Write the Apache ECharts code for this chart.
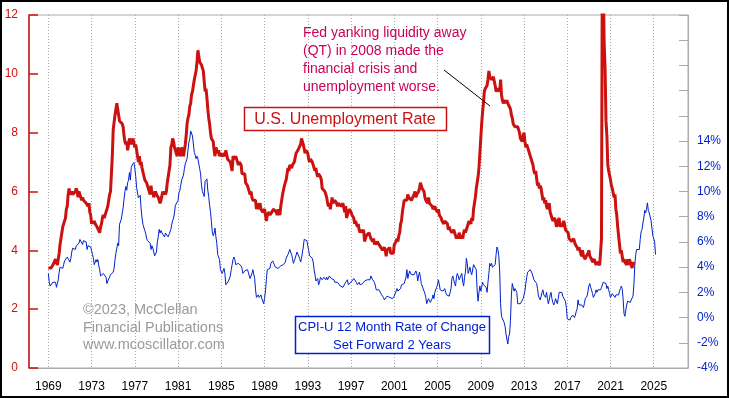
<!DOCTYPE html>
<html>
<head>
<meta charset="utf-8">
<script src="https://cdn.jsdelivr.net/npm/echarts@6/dist/echarts.min.js"></script>
<style>
html,body{margin:0;padding:0;background:#fff;}
#chart{width:729px;height:398px;}
</style>
</head>
<body>
<div id="chart"></div>
<script>
// ---- DATA ----
// U.S. unemployment rate, monthly, starting Jan 1969
const unempStartYear = 1969;
const unemployment = [
3.4,3.4,3.4,3.4,3.4,3.5,3.5,3.5,3.7,3.7,3.5,3.5,
3.9,4.2,4.4,4.6,4.8,4.9,5.0,5.1,5.4,5.5,5.9,6.1,
5.9,5.9,6.0,5.9,5.9,5.9,6.0,6.1,6.0,5.8,6.0,6.0,
5.8,5.7,5.8,5.7,5.7,5.7,5.6,5.6,5.5,5.6,5.3,5.2,
4.9,5.0,4.9,5.0,4.9,4.9,4.8,4.8,4.8,4.6,4.8,4.9,
5.1,5.2,5.1,5.1,5.1,5.4,5.5,5.5,5.9,6.0,6.6,7.2,
8.1,8.1,8.6,8.8,9.0,8.8,8.6,8.4,8.4,8.4,8.3,8.2,
7.9,7.7,7.6,7.7,7.4,7.6,7.8,7.8,7.6,7.7,7.8,7.8,
7.5,7.6,7.4,7.2,7.0,7.2,6.9,7.0,6.8,6.8,6.8,6.4,
6.4,6.3,6.3,6.1,6.0,5.9,6.2,5.9,6.0,5.8,5.9,6.0,
5.9,5.9,5.8,5.8,5.6,5.7,5.7,6.0,5.9,6.0,5.9,6.0,
6.3,6.3,6.3,6.9,7.5,7.6,7.8,7.7,7.5,7.5,7.5,7.2,
7.5,7.4,7.4,7.2,7.5,7.5,7.2,7.4,7.6,7.9,8.3,8.5,
8.6,8.9,9.0,9.3,9.4,9.6,9.8,9.8,10.1,10.4,10.8,10.8,
10.4,10.4,10.3,10.2,10.1,10.1,9.4,9.5,9.2,8.8,8.5,8.3,
8.0,7.8,7.8,7.7,7.4,7.2,7.5,7.5,7.3,7.4,7.2,7.3,
7.3,7.2,7.2,7.3,7.2,7.4,7.4,7.1,7.1,7.1,7.0,7.0,
6.7,7.2,7.2,7.1,7.2,7.2,7.0,6.9,7.0,7.0,6.9,6.6,
6.6,6.6,6.6,6.3,6.3,6.2,6.1,6.0,5.9,6.0,5.8,5.7,
5.7,5.7,5.7,5.4,5.6,5.4,5.4,5.6,5.4,5.4,5.3,5.3,
5.4,5.2,5.0,5.2,5.2,5.3,5.2,5.2,5.3,5.3,5.4,5.4,
5.4,5.3,5.2,5.4,5.4,5.2,5.5,5.7,5.9,5.9,6.2,6.3,
6.4,6.6,6.8,6.7,6.9,6.9,6.8,6.9,6.9,7.0,7.0,7.3,
7.3,7.4,7.4,7.4,7.6,7.8,7.7,7.6,7.6,7.3,7.4,7.4,
7.3,7.1,7.0,7.1,7.1,7.0,6.9,6.8,6.7,6.8,6.6,6.5,
6.6,6.6,6.5,6.4,6.1,6.1,6.1,6.0,5.9,5.8,5.6,5.5,
5.6,5.4,5.4,5.8,5.6,5.6,5.7,5.7,5.6,5.5,5.6,5.6,
5.6,5.5,5.5,5.6,5.6,5.3,5.5,5.1,5.2,5.2,5.4,5.4,
5.3,5.2,5.2,5.1,4.9,5.0,4.9,4.8,4.9,4.7,4.6,4.7,
4.6,4.6,4.7,4.3,4.4,4.5,4.5,4.5,4.6,4.5,4.4,4.4,
4.3,4.4,4.2,4.3,4.2,4.3,4.3,4.2,4.2,4.1,4.1,4.0,
4.0,4.1,4.0,3.8,4.0,4.0,4.0,4.1,3.9,3.9,3.9,3.9,
4.2,4.2,4.3,4.4,4.3,4.5,4.6,4.9,5.0,5.3,5.5,5.7,
5.7,5.7,5.7,5.9,5.8,5.8,5.8,5.7,5.7,5.7,5.9,6.0,
5.8,5.9,5.9,6.0,6.1,6.3,6.2,6.1,6.1,6.0,5.8,5.7,
5.7,5.6,5.8,5.6,5.6,5.6,5.5,5.4,5.4,5.5,5.4,5.4,
5.3,5.4,5.2,5.2,5.1,5.0,5.0,4.9,5.0,5.0,5.0,4.9,
4.7,4.8,4.7,4.7,4.6,4.6,4.7,4.7,4.5,4.4,4.5,4.4,
4.6,4.5,4.4,4.5,4.4,4.6,4.7,4.6,4.7,4.7,4.7,5.0,
5.0,4.9,5.1,5.0,5.4,5.6,5.8,6.1,6.1,6.5,6.8,7.3,
7.8,8.3,8.7,9.0,9.4,9.5,9.5,9.6,9.8,10.1,9.9,9.9,
9.8,9.8,9.9,9.9,9.6,9.4,9.4,9.5,9.5,9.4,9.8,9.3,
9.1,9.0,9.0,9.1,9.0,9.1,9.0,9.0,9.0,8.8,8.6,8.5,
8.3,8.3,8.2,8.2,8.2,8.2,8.2,8.0,7.8,7.8,7.7,7.9,
8.0,7.7,7.5,7.6,7.5,7.5,7.3,7.2,7.2,7.2,6.9,6.7,
6.6,6.7,6.7,6.2,6.3,6.1,6.2,6.1,5.9,5.7,5.8,5.6,
5.7,5.5,5.4,5.4,5.6,5.3,5.2,5.1,5.0,5.0,5.1,5.0,
4.8,4.9,5.0,5.1,4.8,4.9,4.8,4.9,5.0,4.9,4.7,4.7,
4.7,4.6,4.4,4.4,4.4,4.3,4.3,4.4,4.3,4.2,4.2,4.1,
4.0,4.1,4.0,4.0,3.8,4.0,3.8,3.8,3.7,3.8,3.8,3.9,
4.0,3.8,3.8,3.7,3.6,3.6,3.7,3.6,3.5,3.6,3.6,3.6,
3.5,3.5,4.4,14.7,13.2,11.0,10.2,8.4,7.9,6.9,6.7,6.7,
6.4,6.2,6.1,6.1,5.8,5.9,5.4,5.2,4.8,4.5,4.2,3.9,
4.0,3.8,3.6,3.7,3.6,3.6,3.5,3.7,3.5,3.7,3.6,3.5,
3.4,3.6,3.5
];

// CPI-U 12-month rate of change (%), monthly, starting Jan 1967, plotted 2 years forward
const cpiStartYear = 1967;
const cpiShiftYears = 2;
const cpiYoY = [
3.5,2.8,2.5,2.5,2.5,2.8,2.8,2.8,2.8,2.4,2.7,3.0,
3.6,4.0,3.9,3.9,3.9,4.2,4.5,4.4,4.4,4.8,4.7,4.7,
4.4,4.7,5.2,5.5,5.5,5.5,5.4,5.7,5.7,5.7,5.9,6.2,
6.2,6.1,5.8,6.1,6.1,6.0,6.0,5.4,5.7,5.7,5.6,5.6,
5.3,5.0,4.7,4.2,4.4,4.6,4.4,4.6,4.1,3.8,3.3,3.3,
3.3,3.5,3.5,3.5,3.2,2.7,2.9,2.9,3.2,3.4,3.4,3.4,
3.6,3.9,4.6,5.1,5.5,5.9,5.7,7.4,7.4,7.8,8.3,8.7,
9.4,10.0,10.4,10.1,10.7,10.9,11.5,10.9,11.9,12.1,12.2,12.3,
11.8,11.2,10.3,10.2,9.5,9.4,9.7,8.6,7.9,7.4,7.4,6.9,
6.7,6.3,6.1,6.0,6.2,5.9,5.4,5.7,5.5,5.5,4.9,4.9,
5.2,6.0,6.4,7.0,6.7,6.9,6.8,6.6,6.6,6.4,6.7,6.8,
6.8,6.4,6.6,6.5,7.0,7.4,7.7,7.9,8.3,8.9,8.9,9.0,
9.3,9.9,10.1,10.5,10.9,10.9,11.3,11.8,12.2,12.1,12.6,13.3,
13.9,14.2,14.8,14.7,14.4,14.4,13.1,12.9,12.6,12.8,12.6,12.5,
11.8,11.4,10.5,10.0,9.8,9.6,10.8,10.8,11.0,10.1,9.6,8.9,
8.4,7.6,6.8,6.5,6.7,7.1,6.4,5.9,5.0,5.1,4.6,3.8,
3.7,3.5,3.6,3.9,3.5,2.6,2.5,2.6,2.9,2.9,3.3,3.8,
4.2,4.6,4.8,4.6,4.2,4.2,4.2,4.3,4.3,4.3,4.1,3.9,
3.5,3.5,3.7,3.7,3.8,3.8,3.6,3.3,3.1,3.2,3.5,3.8,
3.9,3.1,2.2,1.6,1.6,1.8,1.6,1.6,1.8,1.5,1.3,1.1,
1.5,2.1,3.0,3.8,3.9,3.7,3.9,4.3,4.4,4.5,4.5,4.4,
4.0,3.9,3.9,3.9,3.9,4.0,4.1,4.0,4.2,4.2,4.2,4.4,
4.7,4.8,5.0,5.1,5.4,5.2,5.0,4.7,4.3,4.5,4.7,4.6,
5.2,5.3,5.2,4.7,4.4,4.7,4.8,5.6,6.2,6.3,6.3,6.1,
5.7,5.3,4.9,4.9,5.0,4.7,4.4,3.8,3.4,2.9,3.0,3.1,
2.6,2.8,3.2,3.2,3.0,3.1,3.2,3.1,3.0,3.2,3.0,2.9,
3.3,3.2,3.1,3.2,3.2,3.0,2.8,2.8,2.7,2.8,2.7,2.7,
2.5,2.5,2.5,2.4,2.3,2.5,2.8,2.9,3.0,2.6,2.7,2.7,
2.8,2.9,2.9,3.1,3.2,3.0,2.8,2.6,2.5,2.8,2.6,2.5,
2.7,2.7,2.8,2.9,2.9,2.8,3.0,2.9,3.0,3.0,3.3,3.3,
3.0,3.0,2.8,2.5,2.2,2.3,2.2,2.2,2.2,2.1,1.8,1.7,
1.6,1.4,1.4,1.4,1.7,1.7,1.7,1.6,1.5,1.5,1.5,1.6,
1.7,1.6,1.7,2.3,2.1,2.0,2.1,2.3,2.6,2.6,2.6,2.7,
2.7,3.2,3.8,3.1,3.2,3.7,3.7,3.4,3.5,3.4,3.4,3.4,
3.7,3.5,2.9,3.3,3.6,3.2,2.7,2.7,2.6,2.1,1.9,1.6,
1.1,1.1,1.5,1.6,1.2,1.1,1.5,1.8,1.5,2.0,2.2,2.4,
2.6,3.0,3.0,2.2,2.1,2.1,2.1,2.2,2.3,2.0,1.8,1.9,
1.9,1.7,1.7,2.3,3.1,3.3,3.0,2.7,2.5,3.2,3.5,3.3,
3.0,3.0,3.1,3.5,2.8,2.5,3.2,3.6,4.7,4.3,3.5,3.4,
4.0,3.6,3.4,3.5,4.2,4.3,4.1,3.8,2.1,1.3,2.0,2.5,
2.1,2.4,2.8,2.6,2.7,2.7,2.4,2.0,2.8,3.5,4.3,4.1,
4.3,4.0,4.0,3.9,4.2,5.0,5.6,5.4,4.9,3.7,1.1,0.1,
0.0,0.2,-0.4,-0.7,-1.3,-1.4,-2.1,-1.5,-1.3,-0.2,1.8,2.7,
2.6,2.1,2.3,2.2,2.0,1.1,1.2,1.1,1.1,1.2,1.1,1.5,
1.6,2.1,2.7,3.2,3.6,3.6,3.6,3.8,3.9,3.5,3.4,3.0,
2.9,2.9,2.7,2.3,1.7,1.7,1.4,1.7,2.0,2.2,1.8,1.7,
1.6,2.0,1.5,1.1,1.4,1.8,2.0,1.5,1.2,1.0,1.2,1.5,
1.6,1.1,1.5,2.0,2.1,2.1,2.0,1.7,1.7,1.7,1.3,0.8,
-0.1,0.0,-0.1,-0.2,0.0,0.1,0.2,0.2,0.0,0.2,0.5,0.7,
1.4,1.0,0.9,1.1,1.0,1.0,0.8,1.1,1.5,1.6,1.7,2.1,
2.5,2.7,2.4,2.2,1.9,1.6,1.7,1.9,2.2,2.0,2.2,2.1,
2.1,2.2,2.4,2.5,2.8,2.9,2.9,2.7,2.3,2.5,2.2,1.9,
1.6,1.5,1.9,2.0,1.8,1.6,1.8,1.7,1.7,1.8,2.1,2.3,
2.5,2.3,1.5,0.3,0.1,0.6,1.0,1.3,1.4,1.2,1.2,1.4,
1.4,1.7,2.6,4.2,5.0,5.4,5.4,5.3,5.4,6.2,6.8,7.0,
7.5,7.9,8.5,8.3,8.6,9.1,8.5,8.3,8.2,7.7,7.1,6.5,
6.4,6.0,5.0
];

// Axis tick labels
const yearTicks = [1969,1973,1977,1981,1985,1989,1993,1997,2001,2005,2009,2013,2017,2021,2025];
const leftTicks = [0,2,4,6,8,10,12];
const rightTicksLabeled = [-4,-2,0,2,4,6,8,10,12,14];

// Text
const titleUnemp = 'U.S. Unemployment Rate';
const titleCpi = ['CPI-U 12 Month Rate of Change', 'Set Forward 2 Years'];
const noteLines = ['Fed yanking liquidity away', '(QT) in 2008 made the', 'financial crisis and', 'unemployment worse.'];
const copyrightLines = ['\u00A92023, McClellan', 'Financial Publications', 'www.mcoscillator.com'];

// ---- BUILD ----
const RED = '#cc1111';
const BLUE = '#0022cc';
const NOTE = '#cc0055';
const FONT = '"Liberation Sans", Arial, sans-serif';

const unempData = unemployment.map((v, i) => [unempStartYear + i / 12, v]);
const cpiData = cpiYoY.map((v, i) => [cpiStartYear + cpiShiftYears + i / 12, v]);

const chart = echarts.init(document.getElementById('chart'), null, {renderer: 'canvas'});
chart.setOption({
  animation: false,
  backgroundColor: '#ffffff',
  grid: {left: 29, right: 41, top: 15, bottom: 30, show: true, borderColor: '#aaaaaa', borderWidth: 1, backgroundColor: 'transparent'},
  xAxis: {
    type: 'value', min: 1967.21, max: 2028.17,
    axisLine: {show: true, lineStyle: {color: '#aaaaaa', width: 1}},
    axisTick: {show: false, customValues: yearTicks},
    axisLabel: {customValues: yearTicks, color: '#000', fontFamily: FONT, fontSize: 12, margin: 13, formatter: v => String(Math.round(v))},
    splitLine: {show: true, lineStyle: {color: '#aaaaaa', type: [1, 2], width: 1}}
  },
  yAxis: [
    {
      type: 'value', min: 0, max: 12, interval: 2, position: 'left',
      axisLine: {show: true, lineStyle: {color: RED, width: 1.5}},
      axisTick: {show: true, inside: true, length: 9, lineStyle: {color: RED, width: 1.5}},
      axisLabel: {color: RED, fontFamily: FONT, fontSize: 12, margin: 11},
      splitLine: {show: false}
    },
    {
      type: 'value', min: -4, max: 24, interval: 2, position: 'right',
      axisLine: {show: true, lineStyle: {color: '#aaaaaa', width: 1}},
      axisTick: {show: true, inside: true, length: 9, lineStyle: {color: '#aaaaaa', width: 1}},
      axisLabel: {color: BLUE, fontFamily: FONT, fontSize: 12, margin: 9,
        formatter: v => rightTicksLabeled.indexOf(v) >= 0 ? v + '%' : ''},
      splitLine: {show: false}
    }
  ],
  series: [
    {
      name: 'CPI', type: 'line', yAxisIndex: 1, data: cpiData, showSymbol: false,
      lineStyle: {color: BLUE, width: 1}, z: 2, clip: true
    },
    {
      name: 'Unemployment', type: 'line', yAxisIndex: 0, data: unempData, showSymbol: false,
      lineStyle: {color: RED, width: 3}, z: 3, clip: true
    }
  ],
  graphic: [
    {type: 'rect', shape: {x: 1, y: 1, width: 727, height: 396}, style: {fill: 'none', stroke: '#000', lineWidth: 2}, z: 100},
    {type: 'rect', shape: {x: 244.5, y: 107.5, width: 202, height: 23}, style: {fill: '#fff', stroke: RED, lineWidth: 1.5}, z: 50},
    {type: 'text', x: 345, y: 119.5, style: {text: titleUnemp, fill: RED, font: '16px ' + FONT, align: 'center', verticalAlign: 'middle'}, z: 51},
    {type: 'rect', shape: {x: 295.5, y: 316.5, width: 194, height: 37}, style: {fill: '#fff', stroke: BLUE, lineWidth: 1.5}, z: 50},
    {type: 'text', x: 392, y: 327, style: {text: titleCpi[0], fill: BLUE, font: '13px ' + FONT, align: 'center', verticalAlign: 'middle'}, z: 51},
    {type: 'text', x: 392, y: 345, style: {text: titleCpi[1], fill: BLUE, font: '13px ' + FONT, align: 'center', verticalAlign: 'middle'}, z: 51},
    {type: 'line', shape: {x1: 444, y1: 70, x2: 490, y2: 106}, style: {stroke: '#000', lineWidth: 1}, z: 52},
    ...noteLines.map((t, i) => ({type: 'text', x: 303, y: 33.5 + i * 17.8, style: {text: t, fill: NOTE, font: '14px ' + FONT, align: 'left', verticalAlign: 'middle'}, z: 51})),
    ...copyrightLines.map((t, i) => ({type: 'text', x: 83, y: 310 + i * 17.5, style: {text: t, fill: '#9a9a9a', font: '14.5px ' + FONT, align: 'left', verticalAlign: 'middle'}, z: 51}))
  ]
});
</script>
</body>
</html>
